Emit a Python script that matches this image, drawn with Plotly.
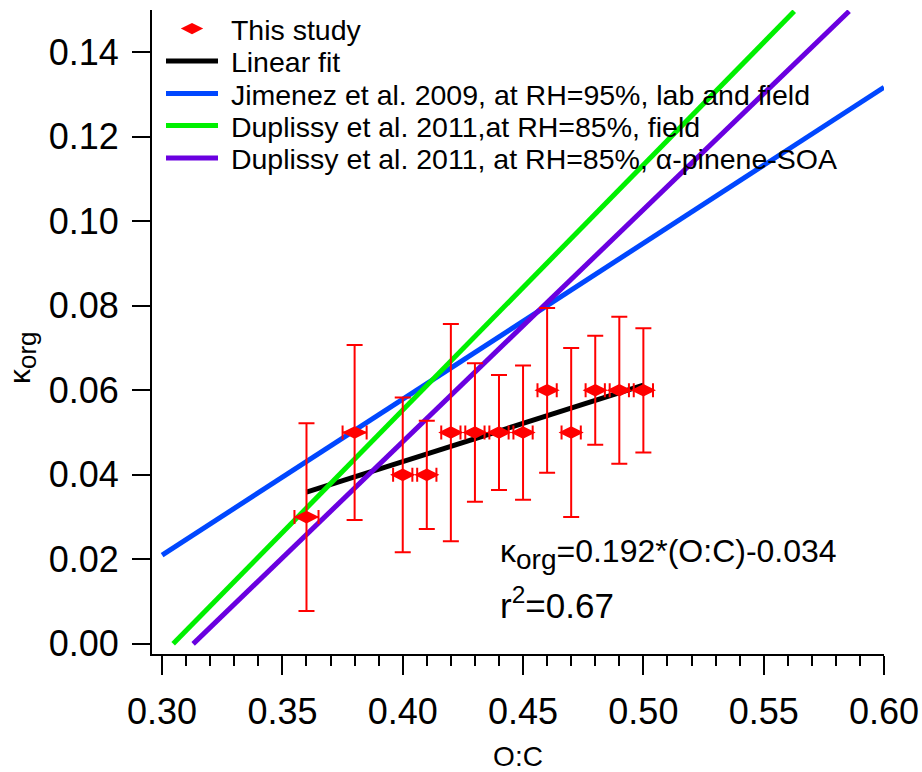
import plotly.graph_objects as go

# --- data ---
oc = [0.36, 0.38, 0.40, 0.41, 0.42, 0.43, 0.44, 0.45, 0.46, 0.47, 0.48, 0.49, 0.50]
kappa = [0.030, 0.050, 0.040, 0.040, 0.050, 0.050, 0.050, 0.050, 0.060, 0.050, 0.060, 0.060, 0.060]
kappa_err = [0.0222, 0.0207, 0.0183, 0.0128, 0.0257, 0.0164, 0.0136, 0.0159, 0.0195, 0.0200, 0.0129, 0.0174, 0.0147]
oc_err = [0.005, 0.005, 0.004, 0.004, 0.004, 0.004, 0.004, 0.004, 0.004, 0.004, 0.004, 0.004, 0.004]

fit_x = [0.36, 0.50]
fit_y = [0.0359, 0.0612]

jimenez_x = [0.300, 0.600]
jimenez_y = [0.0210, 0.1317]

dup_field_x = [0.3046, 0.5627]
dup_field_y = [0.0000, 0.1497]

dup_apinene_x = [0.3129, 0.5855]
dup_apinene_y = [0.0000, 0.1497]

legend_names = [
    "\u00a0This study",
    "\u00a0Linear fit",
    "\u00a0Jimenez et al. 2009, at RH=95%, lab and field",
    "\u00a0Duplissy et al. 2011,at RH=85%, field",
    "\u00a0Duplissy et al. 2011, at RH=85%, α-pinene-SOA",
]

FONT = "Liberation Sans, Arial, Helvetica, sans-serif"
W, H = 922, 772
ML, MR, MT, MB = 152, 38, 10, 118
PH = H - MT - MB
PW = W - ML - MR

fig = go.Figure()

fig.add_trace(go.Scatter(x=fit_x, y=fit_y, mode="lines", name=legend_names[1], legend="legend2",
                         line=dict(color="#000000", width=5)))
fig.add_trace(go.Scatter(x=jimenez_x, y=jimenez_y, mode="lines", name=legend_names[2], legend="legend3",
                         line=dict(color="#0047FF", width=5)))
fig.add_trace(go.Scatter(x=dup_field_x, y=dup_field_y, mode="lines", name=legend_names[3], legend="legend4",
                         line=dict(color="#00F000", width=5)))
fig.add_trace(go.Scatter(x=dup_apinene_x, y=dup_apinene_y, mode="lines", name=legend_names[4], legend="legend5",
                         line=dict(color="#6A00E0", width=5)))
fig.add_trace(go.Scatter(
    x=oc, y=kappa, mode="markers", name=legend_names[0], legend="legend",
    marker=dict(symbol="diamond-wide", size=18, color="#FF0000", line=dict(width=0)),
    error_y=dict(type="data", array=kappa_err, visible=True, color="#FF0000", thickness=2, width=8),
    error_x=dict(type="data", array=oc_err, visible=True, color="#FF0000", thickness=2, width=7),
))

fig.add_annotation(x=0.4397, y=0.0212, xref="x", yref="y", xanchor="left", yanchor="middle",
                   text="κ<sub><span style='font-size:28px'>org</span></sub>=0.192*(O:C)-0.034",
                   showarrow=False, font=dict(family=FONT, size=32, color="black"))
fig.add_annotation(x=0.4397, y=0.0097, xref="x", yref="y", xanchor="left", yanchor="middle",
                   text="r<sup>2</sup>=0.67", showarrow=False,
                   font=dict(family=FONT, size=35, color="black"))

# y-axis title, placed as in the reference
fig.add_annotation(x=(22 - ML) / PW, y=1 - (358 - MT) / PH, xref="paper", yref="paper",
                   xanchor="center", yanchor="middle", textangle=-90, showarrow=False,
                   text="κ<sub><span style='font-size:26px'>org</span></sub>",
                   font=dict(family=FONT, size=30, color="black"))

# legend rows (window y of each row centre)
row_y = [29, 61.5, 94, 126, 158.5]
legend_common = dict(x=(161 - ML) / PW, xanchor="left", yanchor="middle",
                     bgcolor="rgba(0,0,0,0)", borderwidth=0, itemwidth=52,
                     font=dict(family=FONT, size=28.5, color="black"))
legends = {}
for i, yy in enumerate(row_y):
    key = "legend" if i == 0 else f"legend{i+1}"
    legends[key] = dict(legend_common, y=1 - (yy - MT) / PH)

fig.update_layout(
    width=W, height=H, autosize=False,
    margin=dict(l=ML, r=MR, t=MT, b=MB, pad=0, autoexpand=False),
    paper_bgcolor="white", plot_bgcolor="white",
    font=dict(family=FONT, color="black"),
    showlegend=True,
    **legends,
    xaxis=dict(range=[0.2958, 0.60], showline=True, linecolor="black", linewidth=2,
               automargin=False,
               ticks="outside", ticklen=19, tickwidth=2, tickcolor="black",
               tick0=0.30, dtick=0.05, tickformat=".2f",
               tickfont=dict(family=FONT, size=36), ticklabelstandoff=6,
               minor=dict(ticks="outside", ticklen=10, tickwidth=2, tickcolor="black", dtick=0.01, tick0=0.30),
               showgrid=False, zeroline=False, mirror=False,
               title=dict(text="O:C", font=dict(family=FONT, size=28), standoff=20)),
    yaxis=dict(range=[-0.0024, 0.15], showline=True, linecolor="black", linewidth=2,
               automargin=False,
               ticks="outside", ticklen=18, tickwidth=2, tickcolor="black",
               tick0=0, dtick=0.02, tickformat=".2f",
               tickfont=dict(family=FONT, size=36), ticklabelstandoff=6,
               showgrid=False, zeroline=False, mirror=False),
)

fig.write_html("out.html", config={"displayModeBar": False},
               post_script="document.body.style.margin='0px';")
